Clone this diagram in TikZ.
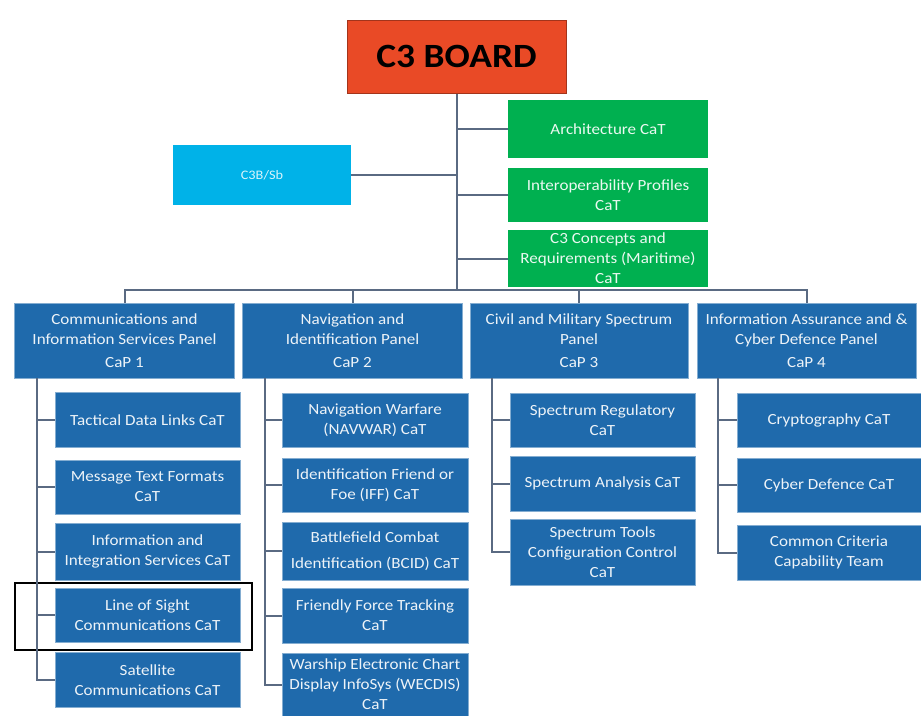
\documentclass[tikz,border=0pt]{standalone}
\usepackage{fontspec}
\setmainfont{Carlito}[FakeStretch=1.1]
\usetikzlibrary{positioning}

\definecolor{boardred}{RGB}{233,74,38}
\definecolor{capblue}{RGB}{31,106,172}
\definecolor{catgreen}{RGB}{0,176,80}
\definecolor{sbcyan}{RGB}{0,178,232}
\definecolor{linkgrey}{RGB}{90,106,130}

\begin{document}
\begin{tikzpicture}[x=1pt,y=-1pt,font=\fontsize{15.5}{20}\selectfont]
  \tikzstyle{board}=[rectangle,draw=boardred!70!black,fill=boardred,line width=1pt,minimum width=219pt,minimum height=73pt,font=\fontsize{34}{40}\selectfont\bfseries]
  \tikzstyle{greenbox}=[rectangle,fill=catgreen,text=white!92!catgreen,minimum width=200pt,align=center,inner sep=0pt]
  \tikzstyle{panel}=[rectangle,fill=capblue,draw=capblue!55!white,text=white!92!capblue,minimum width=220pt,minimum height=75pt,align=center,inner sep=0pt]
  \tikzstyle{team}=[rectangle,fill=capblue,draw=capblue!55!white,text=white!92!capblue,minimum width=185pt,align=center,inner sep=0pt]
  \tikzstyle{link}=[draw=linkgrey,line width=2pt]

  \useasboundingbox (0,0) rectangle (921,715);

  % top of the tree
  \node [board] (board) at (456.5,56.5) {C3 BOARD};
  \node [greenbox,minimum height=58pt] (arch) at (608,129) {Architecture CaT};
  \node [greenbox,minimum height=54pt] (interop) at (608,195) {Interoperability Profiles\\CaT};
  \node [greenbox,minimum height=57pt] (concepts) at (608,258.5) {C3 Concepts and\\Requirements (Maritime)\\CaT};
  \node [rectangle,fill=sbcyan,text=white!85!sbcyan,minimum width=178pt,minimum height=60pt,font=\fontsize{13}{15}\selectfont] (sb) at (262,175) {C3B/Sb};
  \coordinate (bus) at (456.5,290);

  % panels
  \node [panel] (cap1) at (124.5,340.5) {Communications and\\Information Services Panel\\[3pt]CaP 1};
  \node [panel] (cap2) at (352.5,340.5) {Navigation and\\Identification Panel\\[3pt]CaP 2};
  \node [panel,minimum width=218pt] (cap3) at (579,340.5) {Civil and Military Spectrum\\Panel\\[3pt]CaP 3};
  \node [panel,minimum width=219pt] (cap4) at (806.5,340.5) {Information Assurance and \&\\Cyber Defence Panel\\[3pt]CaP 4};

  % CaP 1 teams
  \node [team,minimum height=55pt] (tdl) at (147.5,420) {Tactical Data Links CaT};
  \node [team,minimum height=54pt] (mtf) at (147.5,487) {Message Text Formats\\CaT};
  \node [team,minimum height=57pt] (iis) at (147.5,551.5) {Information and\\Integration Services CaT};
  \node [team,minimum height=54pt] (los) at (147.5,615) {Line of Sight\\Communications CaT};
  \node [team,minimum height=55pt] (sat) at (147.5,680) {Satellite\\Communications CaT};

  % CaP 2 teams
  \node [team,minimum width=186pt,minimum height=54pt] (navwar) at (375,420) {Navigation Warfare\\(NAVWAR) CaT};
  \node [team,minimum width=186pt,minimum height=54pt] (iff) at (375,485) {Identification Friend or\\Foe (IFF) CaT};
  \node [team,minimum width=186pt,minimum height=58pt] (bcid) at (375,551) {Battlefield Combat\\[6pt]Identification (BCID) CaT};
  \node [team,minimum width=186pt,minimum height=55pt] (fft) at (375,615.5) {Friendly Force Tracking\\CaT};
  \node [team,minimum width=186pt,minimum height=63pt] (wecdis) at (375,684.5) {Warship Electronic Chart\\Display InfoSys (WECDIS)\\CaT};

  % CaP 3 teams
  \node [team,minimum height=54pt] (regul) at (602.5,420) {Spectrum Regulatory\\CaT};
  \node [team,minimum height=55pt] (anal) at (602.5,483.5) {Spectrum Analysis CaT};
  \node [team,minimum height=66pt] (tools) at (602.5,552) {Spectrum Tools\\Configuration Control\\CaT};

  % CaP 4 teams
  \node [team,minimum width=184pt,minimum height=54pt] (crypto) at (829,420) {Cryptography CaT};
  \node [team,minimum width=184pt,minimum height=54pt] (cyber) at (829,485) {Cyber Defence CaT};
  \node [team,minimum width=184pt,minimum height=55pt] (crit) at (829,552.5) {Common Criteria\\Capability Team};

  % highlight
  \node [rectangle,draw=black,line width=1.6pt,minimum width=237pt,minimum height=67pt] (mark) at (133.5,616.5) {};

  % connectors
  \draw [link] (board.south) -- (bus);
  \draw [link] (arch.west) -- (arch.west -| bus);
  \draw [link] (interop.west) -- (interop.west -| bus);
  \draw [link] (concepts.west) -- (concepts.west -| bus);
  \draw [link] (sb.east) -- (sb.east -| bus);
  \draw [link] (cap1.north) |- (bus) -| (cap4.north);
  \draw [link] (cap2.north) -- (cap2.north |- bus);
  \draw [link] (cap3.north) -- (cap3.north |- bus);

  \coordinate (s1) at (37,378);
  \coordinate (s2) at (265,378);
  \coordinate (s3) at (492,378);
  \coordinate (s4) at (718,378);
  \foreach \n in {tdl,mtf,iis,los,sat} \draw [link] (s1) |- (\n.west);
  \foreach \n in {navwar,iff,bcid,fft,wecdis} \draw [link] (s2) |- (\n.west);
  \foreach \n in {regul,anal,tools} \draw [link] (s3) |- (\n.west);
  \foreach \n in {crypto,cyber,crit} \draw [link] (s4) |- (\n.west);
\end{tikzpicture}
\end{document}
